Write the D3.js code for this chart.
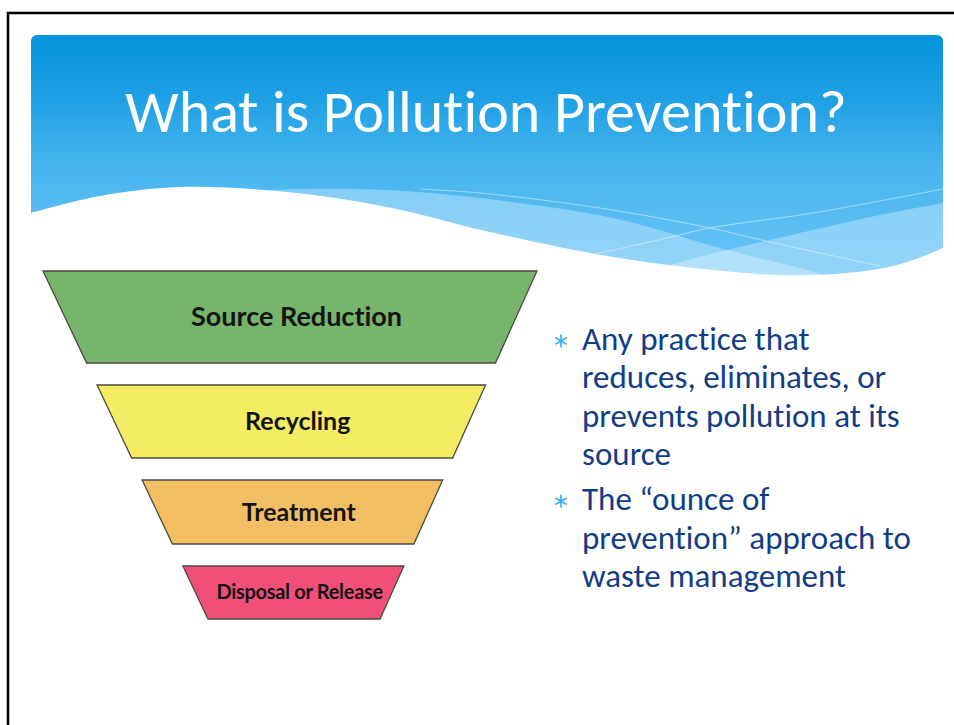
<!DOCTYPE html>
<html>
<head>
<meta charset="utf-8">
<script src="https://cdn.jsdelivr.net/npm/d3@7"></script>
<style>
  body { margin: 0; background: #fff; }
  svg { display: block; }
  text { font-variant-ligatures: none; }
</style>
</head>
<body>
<div id="chart"></div>
<script>
// ---- data ----
var title = "What is Pollution Prevention?";
var levels = ["Source Reduction", "Recycling", "Treatment", "Disposal or Release"];
var bulletOne = ["Any practice that", "reduces, eliminates, or", "prevents pollution at its", "source"];
var bulletTwo = ["The \u201counce of", "prevention\u201d approach to", "waste management"];

// ---- styles / layout ----
var W = 954, H = 725;
var levelColors = ["#76b56b", "#f4ec63", "#f3be63", "#f24e7a"];
var rowHeights = [92, 73, 64, 53];
var labelSizes = [27, 25, 25, 20];
var rowGap = 22;
var funnelTop = 271;

var svg = d3.select("#chart").append("svg")
  .attr("width", W)
  .attr("height", H);

var defs = svg.append("defs");
var grad = defs.append("linearGradient")
  .attr("id", "hdr")
  .attr("gradientUnits", "userSpaceOnUse")
  .attr("x1", 0).attr("y1", 35).attr("x2", 0).attr("y2", 250);
[[0, "#0593dd"], [0.3, "#1fa0e5"], [0.6, "#46b4ee"], [1, "#63c1f5"]].forEach(function(s) {
  grad.append("stop").attr("offset", s[0]).attr("stop-color", s[1]);
});

// slide frame
svg.append("rect")
  .attr("x", 8).attr("y", 13)
  .attr("width", W).attr("height", H)
  .attr("fill", "none")
  .attr("stroke", "#000")
  .attr("stroke-width", 2.5);

//////////////////////////////////
// header with waves
var header = svg.append("g");
header.append("rect")
  .attr("x", 31).attr("y", 35)
  .attr("width", 912).attr("height", 270)
  .attr("rx", 6)
  .attr("fill", "url(#hdr)");

var wave = d3.line().curve(d3.curveCatmullRom);

function closedDown(pts, bottom) {
  var first = pts[0], last = pts[pts.length - 1];
  return wave(pts) + " L" + last[0] + "," + bottom + " L" + first[0] + "," + bottom + " Z";
}

// translucent bands
header.append("path")
  .attr("d", closedDown([[250, 191], [300, 189], [387, 190], [480, 198], [613, 218], [727, 250], [800, 268], [860, 285]], 310))
  .attr("fill", "#fff").attr("fill-opacity", 0.3);
header.append("path")
  .attr("d", closedDown([[600, 292], [667, 266], [727, 250], [813, 230], [880, 215], [943, 203]], 310))
  .attr("fill", "#fff").attr("fill-opacity", 0.3);

// thin highlight lines
header.append("path")
  .attr("d", wave([[420, 189], [480, 193], [600, 208], [710, 228], [770, 242], [880, 266]]))
  .attr("fill", "none").attr("stroke", "#fff").attr("stroke-opacity", 0.45);
header.append("path")
  .attr("d", wave([[560, 262], [667, 238], [710, 228], [813, 213], [943, 189]]))
  .attr("fill", "none").attr("stroke", "#fff").attr("stroke-opacity", 0.45);

// white body below the wave
header.append("path")
  .attr("d", closedDown([[25, 215], [31, 213], [100, 196], [180, 187], [287, 192], [387, 207], [490, 232],
                         [613, 257], [713, 270], [780, 275], [847, 273], [897, 265], [943, 248], [950, 244]], 320))
  .attr("fill", "#fff");

header.append("text")
  .attr("x", 486).attr("y", 132)
  .attr("text-anchor", "middle")
  .attr("fill", "#fff")
  .attr("font-family", "Carlito, Lato, sans-serif")
  .attr("font-size", 60)
  .text(title);

//////////////////////////////////
// funnel
var funnelBottom = funnelTop + d3.sum(rowHeights) + rowGap * (levels.length - 1);
var leftEdge = d3.scaleLinear().domain([funnelTop, funnelBottom]).range([43, 208]);
var rightEdge = d3.scaleLinear().domain([funnelTop, funnelBottom]).range([537, 380]);
var color = d3.scaleOrdinal(levels, levelColors);

var rows = levels.map(function(name, i) {
  var y0 = funnelTop + d3.sum(rowHeights.slice(0, i)) + rowGap * i;
  return { name: name, y0: y0, y1: y0 + rowHeights[i], size: labelSizes[i] };
});

var funnel = svg.append("g");

var row = funnel.selectAll("g.level")
  .data(rows)
.enter()
  .append("g")
  .attr("class", "level");

row.append("path")
  .attr("d", function(r) {
    return "M" + leftEdge(r.y0) + "," + r.y0 +
      " L" + rightEdge(r.y0) + "," + r.y0 +
      " L" + rightEdge(r.y1) + "," + r.y1 +
      " L" + leftEdge(r.y1) + "," + r.y1 + " Z";
  })
  .attr("fill", function(r) { return color(r.name); })
  .attr("stroke", "#4a4a40")
  .attr("stroke-width", 1.3);

row.append("text")
  .attr("x", function(r) { var m = (r.y0 + r.y1) / 2; return (leftEdge(m) + rightEdge(m)) / 2 + 6; })
  .attr("y", function(r) { return (r.y0 + r.y1) / 2; })
  .attr("dy", "0.34em")
  .attr("text-anchor", "middle")
  .attr("fill", "#141414")
  .attr("font-family", "Lato, sans-serif")
  .attr("font-weight", "bold")
  .attr("font-size", function(r) { return r.size; })
  .attr("letter-spacing", function(r) { return r.size < 22 ? -0.3 : 0; })
  .text(function(r) { return r.name; });

//////////////////////////////////
// bullets
var bullets = svg.append("g")
  .attr("font-family", "Carlito, Lato, sans-serif")
  .attr("font-size", 33)
  .attr("fill", "#123d86");

var lineStep = 38.3;
var items = [
  { lines: bulletOne, y: 350 },
  { lines: bulletTwo, y: 350 + lineStep * bulletOne.length + 7 }
];

items.forEach(function(it) {
  bullets.append("path")
    .attr("transform", "translate(561," + (it.y - 9) + ")")
    .attr("d", d3.symbol(d3.symbolAsterisk, 120)())
    .attr("fill", "none")
    .attr("stroke", "#3ab0f0")
    .attr("stroke-width", 1.7);
  bullets.selectAll(null)
    .data(it.lines)
  .enter()
    .append("text")
    .attr("x", 582)
    .attr("y", function(d, i) { return it.y + i * lineStep; })
    .text(function(d) { return d; });
});
</script>
</body>
</html>
